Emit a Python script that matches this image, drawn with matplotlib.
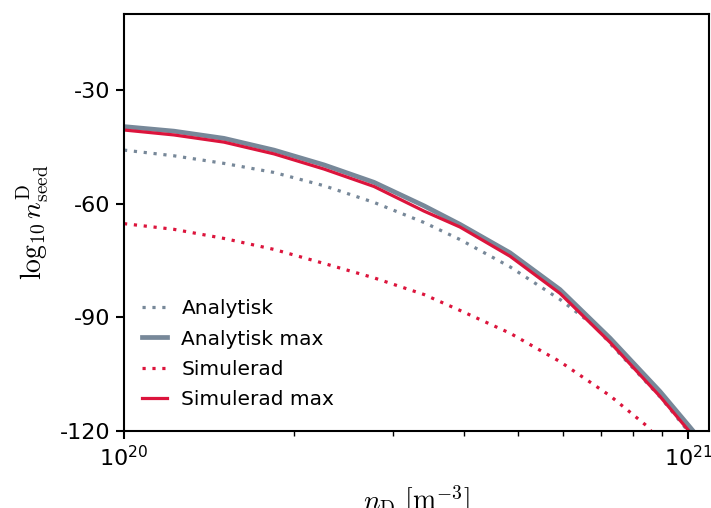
import numpy as np
import matplotlib
matplotlib.use("Agg")
import matplotlib.pyplot as plt
from matplotlib.ticker import NullFormatter, FixedLocator

plt.rcParams['mathtext.fontset'] = 'cm'
plt.rcParams['axes.unicode_minus'] = False

# --- data (n_D in units of 1e20 m^-3) ---
n_ana_max = [1.000, 1.226, 1.504, 1.845, 2.263, 2.775, 3.404, 3.943, 4.836, 5.930, 7.273, 8.922, 10.08, 10.21]
ana_max = [-39.7, -40.9, -42.8, -45.9, -49.8, -54.4, -60.6, -65.5, -73.0, -82.7, -95.5, -109.6, -119.0, -120.0]

n_sim_max = [1.000, 1.226, 1.504, 1.845, 2.263, 2.775, 3.404, 3.943, 4.836, 5.930, 7.273, 8.922, 10.04]
sim_max = [-40.6, -41.9, -43.8, -46.9, -50.9, -55.5, -62.0, -66.2, -73.9, -83.7, -96.6, -110.9, -120.0]

n_ana = [1.000, 1.226, 1.504, 1.845, 2.263, 2.775, 3.404, 3.943, 4.836, 5.930, 6.842, 7.273, 8.922, 10.00]
ana = [-45.9, -47.4, -49.4, -51.8, -55.3, -59.7, -65.0, -69.5, -76.7, -85.3, -92.4, -96.9, -111.0, -120.0]

n_sim = [1.000, 1.226, 1.504, 1.845, 2.263, 2.775, 3.404, 3.943, 4.836, 5.930, 7.273, 8.504, 8.598]
sim = [-65.3, -66.8, -69.2, -72.1, -75.8, -79.6, -84.0, -88.2, -94.2, -101.7, -110.7, -119.0, -120.0]

yticks = [-120, -90, -60, -30]

GRAY = '#778899'
RED = '#DC143C'

fig = plt.figure(figsize=(7.11, 5.08), dpi=100)
ax = fig.add_axes([0.1744, 0.1516, 0.8226, 0.8208])

ax.plot(np.array(n_ana) * 1e20, ana, color=GRAY, lw=2.3, dashes=(1, 2.1), label='Analytisk')
ax.plot(np.array(n_ana_max) * 1e20, ana_max, '-', color=GRAY, lw=3.4, label='Analytisk max')
ax.plot(np.array(n_sim) * 1e20, sim, color=RED, lw=2.3, dashes=(1, 2.1), label='Simulerad')
ax.plot(np.array(n_sim_max) * 1e20, sim_max, '-', color=RED, lw=2.3, label='Simulerad max')

ax.set_xscale('log')
ax.set_xlim(1e20, 10**21.037)
ax.set_ylim(-120, -10)
ax.yaxis.set_major_locator(FixedLocator(yticks))
ax.set_yticklabels([str(t) for t in yticks])
ax.xaxis.set_minor_formatter(NullFormatter())

for s in ax.spines.values():
    s.set_linewidth(1.5)
ax.tick_params(which='major', length=5.8, width=1.5, labelsize=16, pad=4)
ax.tick_params(which='minor', length=3.6, width=1.0)

ax.set_ylabel(r'$\log_{10} n_\mathrm{seed}^\mathrm{D}$', fontsize=20, labelpad=6)
ax.set_xlabel(r'$n_\mathrm{D}\ [\mathrm{m}^{-3}]$', fontsize=20, labelpad=10)

ax.legend(loc='lower left', bbox_to_anchor=(0.0, 0.01), frameon=False,
          fontsize=14.5, handlelength=1.25, handletextpad=0.7, labelspacing=0.55)

fig.savefig('out.png', dpi=100)
